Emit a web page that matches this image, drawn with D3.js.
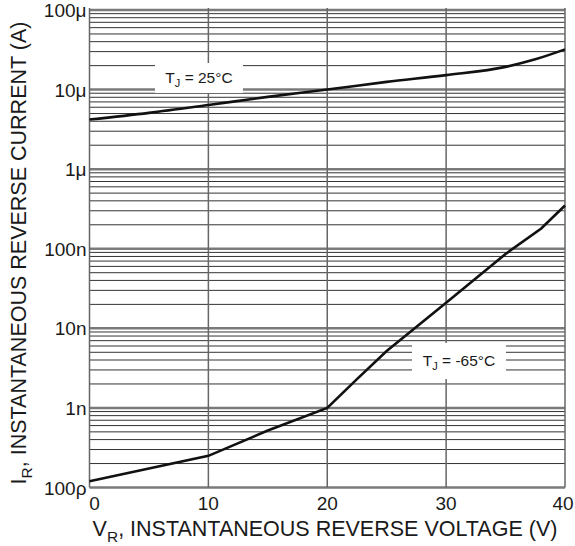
<!DOCTYPE html>
<html>
<head>
<meta charset="utf-8">
<script src="https://cdn.jsdelivr.net/npm/d3@7"></script>
<style>
  body { margin: 0; background: #fff; }
  svg text { font-family: "Liberation Sans", Arial, sans-serif; fill: #1a1a1a; }
</style>
</head>
<body>
<svg id="chart" width="575" height="546"></svg>
<script>
// --- data ---
const voltTicks = [0, 10, 20, 30, 40];
const currentDecades = [1e-10, 1e-9, 1e-8, 1e-7, 1e-6, 1e-5, 1e-4];
const currentLabels = ["100\u03c1", "1n", "10n", "100n", "1\u03bc", "10\u03bc", "100\u03bc"];

const v25 = [0, 5, 10, 15, 20, 25, 30, 35, 37.5, 40];
const i25 = [4.2e-6, 5.1e-6, 6.4e-6, 8.1e-6, 1.0e-5, 1.25e-5, 1.52e-5, 1.93e-5, 2.4e-5, 3.2e-5];

const vm65 = [0, 10, 15, 20, 22.5, 25, 30, 35, 38, 40];
const im65 = [1.2e-10, 2.5e-10, 5.2e-10, 1.0e-9, 2.3e-9, 5.2e-9, 2.1e-8, 8.6e-8, 1.8e-7, 3.5e-7];

const svg = d3.select("#chart");
const plotL = 89.5, plotR = 565, plotT = 10, plotB = 487.5;

const x = d3.scaleLinear().domain([0, 40]).range([plotL, plotR]);
const y = d3.scaleLog().domain([1e-10, 1e-4]).range([plotB, plotT]);

// minor grid 2..9 in every decade
const minor = [];
currentDecades.slice(0, -1).forEach(d => {
    for (let k = 2; k <= 9; k++) minor.push(d * k);
});

const grid = svg.append("g");
grid.selectAll("line.minor").data(minor).enter().append("line")
    .attr("class", "minor")
    .attr("x1", plotL).attr("x2", plotR)
    .attr("y1", d => y(d)).attr("y2", d => y(d))
    .attr("stroke", "#333").attr("stroke-width", 1);

grid.selectAll("line.major").data(currentDecades).enter().append("line")
    .attr("class", "major")
    .attr("x1", plotL).attr("x2", plotR)
    .attr("y1", d => y(d)).attr("y2", d => y(d))
    .attr("stroke", "#7a7a7a").attr("stroke-width", 2.5);

grid.selectAll("line.v").data(voltTicks).enter().append("line")
    .attr("class", "v")
    .attr("x1", d => x(d)).attr("x2", d => x(d))
    .attr("y1", plotT - 2).attr("y2", plotB)
    .attr("stroke", "#666").attr("stroke-width", 1.5);

// annotation boxes (white behind labels)
function tjLabel(cx, cy, bw, bh, temp) {
    svg.append("rect").attr("x", cx - bw / 2).attr("y", cy - bh / 2)
        .attr("width", bw).attr("height", bh).attr("fill", "#fff");
    const t = svg.append("text").attr("x", cx).attr("y", cy + 5)
        .attr("text-anchor", "middle").attr("font-size", 15.5);
    t.append("tspan").text("T");
    t.append("tspan").attr("dy", 4).attr("font-size", 11).text("J");
    t.append("tspan").attr("dy", -4).text(" = " + temp + "\u00b0C");
}

// curves
svg.append("path").datum(d3.zip(v25, i25))
    .attr("d", d3.line().x(d => x(d[0])).y(d => y(d[1])).curve(d3.curveMonotoneX))
    .attr("fill", "none").attr("stroke", "#111").attr("stroke-width", 2.6);
svg.append("path").datum(d3.zip(vm65, im65))
    .attr("d", d3.line().x(d => x(d[0])).y(d => y(d[1])))
    .attr("fill", "none").attr("stroke", "#111").attr("stroke-width", 2.6);

tjLabel(199, 78, 88, 30, "25");
tjLabel(459, 361, 94, 36, "-65");

// tick labels
svg.append("g").selectAll("text").data(currentDecades).enter().append("text")
    .attr("x", plotL - 3).attr("y", d => y(d) + 7)
    .attr("text-anchor", "end").attr("font-size", 19)
    .text((d, i) => currentLabels[i]);

svg.append("g").selectAll("text").data(voltTicks).enter().append("text")
    .attr("x", d => d === 0 ? x(d) + 5 : (d === 40 ? x(d) - 2 : x(d)))
    .attr("y", 510)
    .attr("text-anchor", "middle").attr("font-size", 19)
    .text(d => d);

// axis titles
const xt = svg.append("text").attr("x", 325).attr("y", 536)
    .attr("text-anchor", "middle").attr("font-size", 21.5);
xt.append("tspan").text("V");
xt.append("tspan").attr("dy", 6).attr("font-size", 15.5).text("R");
xt.append("tspan").attr("dy", -6).text(", INSTANTANEOUS REVERSE VOLTAGE (V)");

const yt = svg.append("text").attr("transform", "translate(26,253) rotate(-90)")
    .attr("text-anchor", "middle").attr("font-size", 21.5);
yt.append("tspan").text("I");
yt.append("tspan").attr("dy", 6).attr("font-size", 15.5).text("R");
yt.append("tspan").attr("dy", -6).text(", INSTANTANEOUS REVERSE CURRENT (A)");
</script>
</body>
</html>
